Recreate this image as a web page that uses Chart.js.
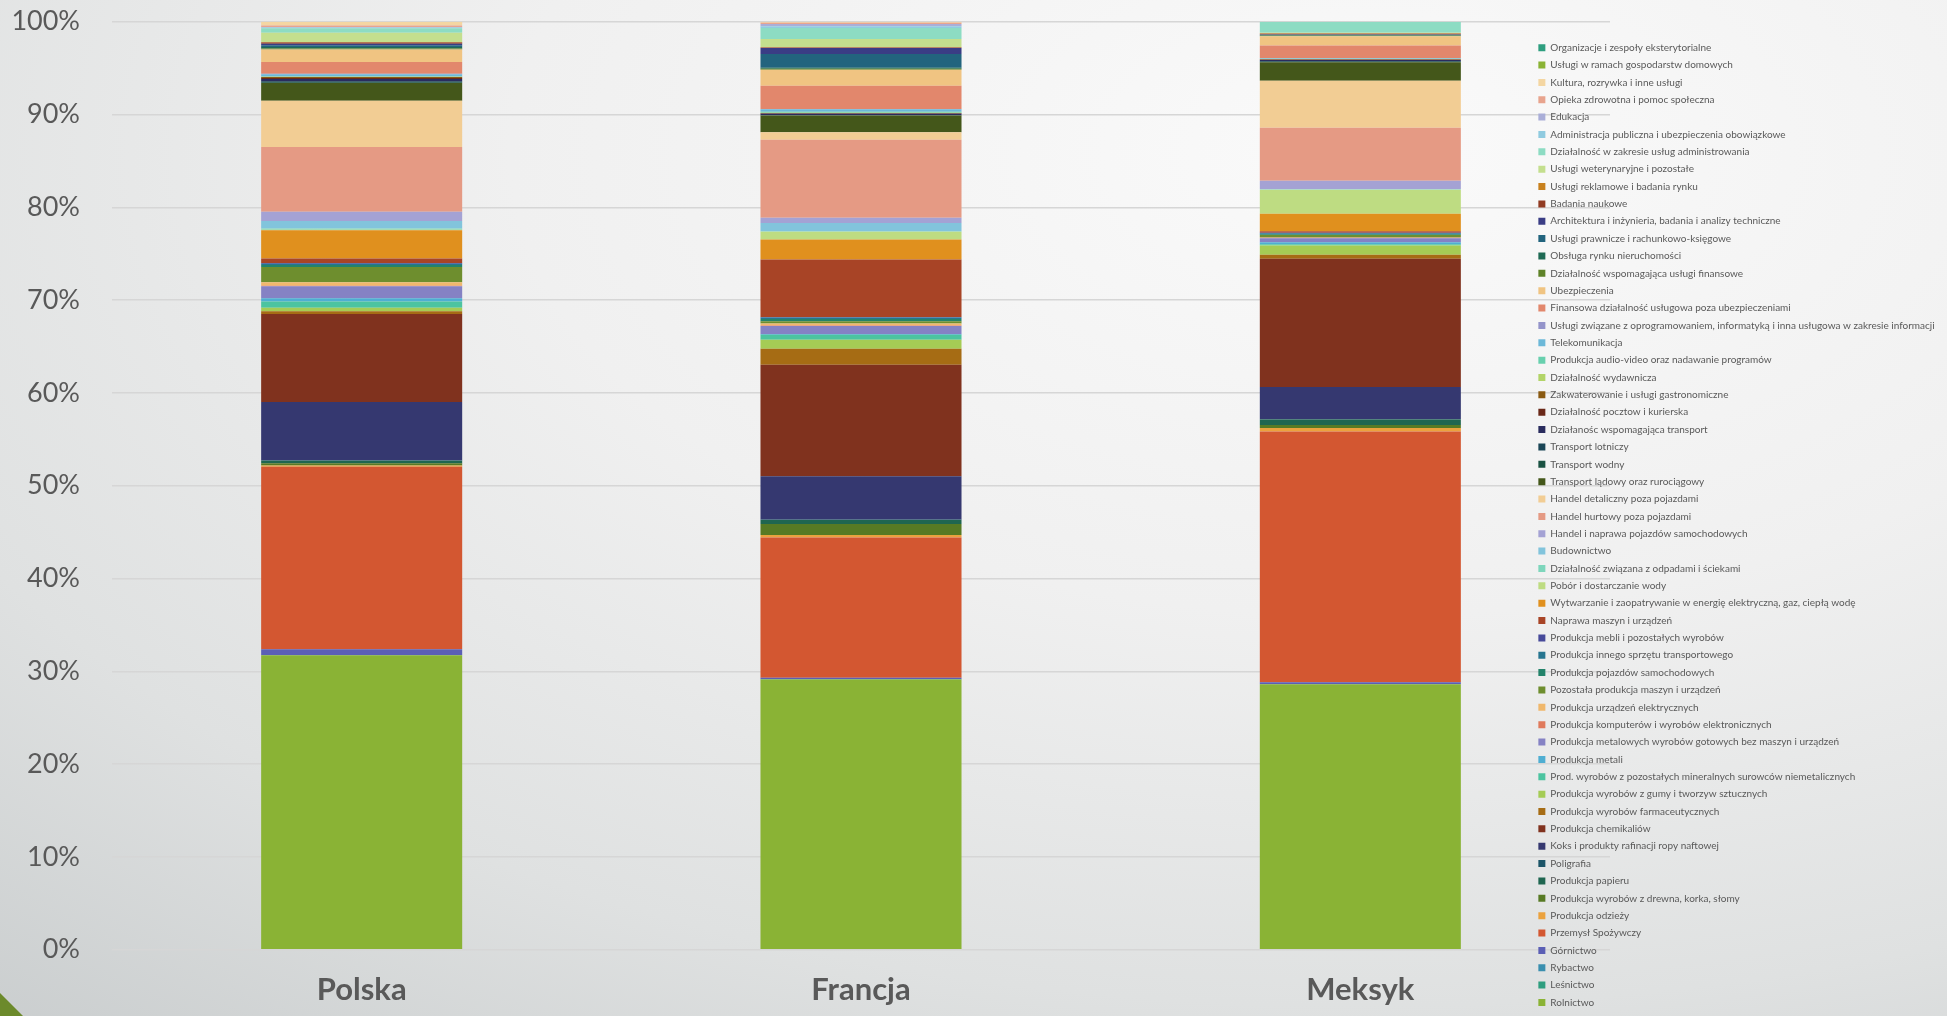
<!DOCTYPE html>
<html>
<head>
<meta charset="utf-8">
<script src="https://cdn.jsdelivr.net/npm/chart.js@4/dist/chart.umd.min.js"></script>
<style>
html, body { margin: 0; padding: 0; }
body {
  width: 1947px; height: 1016px; overflow: hidden; position: relative;
  background: radial-gradient(ellipse 115% 120% at 70% 15%, #fafafa 0%, #f0f0f0 38%, #dfe1e1 70%, #c5c9ca 100%);
}
#wrap { position: absolute; left: 0; top: 0; width: 1947px; height: 1016px; }
.corner {
  position: absolute; left: 0; bottom: 0; width: 0; height: 0;
  border-bottom: 23px solid #6c8a2b; border-right: 23px solid transparent;
}
</style>
</head>
<body>
<div id="wrap"><canvas id="chart"></canvas></div>
<div class="corner"></div>
<script>
// kraje (kolumny)
var countries = ['Polska', 'Francja', 'Meksyk'];

// sektory, od dołu słupka do góry
var sectors = [
  'Rolnictwo', 'Leśnictwo', 'Rybactwo', 'Górnictwo', 'Przemysł Spożywczy',
  'Produkcja odzieży', 'Produkcja wyrobów z drewna, korka, słomy', 'Produkcja papieru', 'Poligrafia',
  'Koks i produkty rafinacji ropy naftowej', 'Produkcja chemikaliów', 'Produkcja wyrobów farmaceutycznych',
  'Produkcja wyrobów z gumy i tworzyw sztucznych', 'Prod. wyrobów z pozostałych mineralnych surowców niemetalicznych',
  'Produkcja metali', 'Produkcja metalowych wyrobów gotowych bez maszyn i urządzeń',
  'Produkcja komputerów i wyrobów elektronicznych', 'Produkcja urządzeń elektrycznych',
  'Pozostała produkcja maszyn i urządzeń', 'Produkcja pojazdów samochodowych',
  'Produkcja innego sprzętu transportowego', 'Produkcja mebli i pozostałych wyrobów', 'Naprawa maszyn i urządzeń',
  'Wytwarzanie i zaopatrywanie w energię elektryczną, gaz, ciepłą wodę', 'Pobór i dostarczanie wody',
  'Działalność związana z odpadami i ściekami', 'Budownictwo', 'Handel i naprawa pojazdów samochodowych',
  'Handel hurtowy poza pojazdami', 'Handel detaliczny poza pojazdami', 'Transport lądowy oraz rurociągowy',
  'Transport wodny', 'Transport lotniczy', 'Działanośc wspomagająca transport', 'Działalność pocztow i kurierska',
  'Zakwaterowanie i usługi gastronomiczne', 'Działalność wydawnicza', 'Produkcja audio-video oraz nadawanie programów',
  'Telekomunikacja', 'Usługi związane z oprogramowaniem, informatyką i inna usługowa w zakresie informacji',
  'Finansowa działalność usługowa poza ubezpieczeniami', 'Ubezpieczenia', 'Działalność wspomagająca usługi finansowe',
  'Obsługa rynku nieruchomości', 'Usługi prawnicze i rachunkowo-księgowe',
  'Architektura i inżynieria, badania i analizy techniczne', 'Badania naukowe', 'Usługi reklamowe i badania rynku',
  'Usługi weterynaryjne i pozostałe', 'Działalność w zakresie usług administrowania',
  'Administracja publiczna i ubezpieczenia obowiązkowe', 'Edukacja', 'Opieka zdrowotna i pomoc społeczna',
  'Kultura, rozrywka i inne usługi', 'Usługi w ramach gospodarstw domowych', 'Organizacje i zespoły eksterytorialne'
];

// udziały w %, ta sama kolejność co sectors
var polska = [
  31.8, 0, 0.03, 0.6, 19.7, 0.15, 0.25, 0.25, 0.05, 6.3,
  9.5, 0.3, 0.37, 0.68, 0.36, 1.3, 0.03, 0.4, 1.65, 0.2,
  0.15, 0.08, 0.47, 3.05, 0.05, 0.15, 0.79, 1.0, 7.0, 5.0,
  1.9, 0.1, 0.1, 0.25, 0.1, 0.1, 0.03, 0.03, 0.26, 0.05,
  1.25, 1.37, 0.1, 0.15, 0.2, 0.15, 0.15, 0.05, 1.0, 0.47,
  0.1, 0.05, 0.17, 0.4, 0, 0
];
var francja = [
  29.1, 0.05, 0, 0.15, 15.1, 0.25, 1.19, 0.43, 0.05, 4.67,
  12.0, 1.72, 0.97, 0.54, 0.1, 0.86, 0.05, 0.2, 0.25, 0.25,
  0.15, 0.05, 6.2, 2.16, 0.83, 0.05, 0.9, 0.57, 8.4, 0.79,
  1.8, 0.03, 0.03, 0.15, 0.03, 0.03, 0.03, 0.12, 0.25, 0.05,
  2.5, 1.72, 0.1, 0.1, 1.5, 0.65, 0.03, 0.03, 0.9, 1.19,
  0.17, 0.25, 0.15, 0.1, 0, 0
];
var meksyk = [
  28.6, 0, 0, 0.2, 27.0, 0.4, 0.3, 0.61, 0.05, 3.45,
  13.8, 0.43, 1.0, 0.15, 0.2, 0.43, 0.05, 0.05, 0.25, 0.1,
  0.1, 0.05, 0.15, 1.9, 2.59, 0.02, 0.05, 0.9, 5.7, 5.07,
  1.98, 0.05, 0.1, 0.1, 0.05, 0.03, 0.02, 0.02, 0.05, 0.03,
  1.36, 1.0, 0.05, 0.05, 0.05, 0.03, 0.08, 0.05, 0.05, 1.2,
  0, 0, 0, 0, 0, 0
];

var colors = [
  '#8ab335', '#2e9e7f', '#3a8faf', '#5b5fb5', '#d35731', '#eba23e',
  '#577a24', '#1f6650', '#1c5568', '#353870', '#80321e', '#a66c14',
  '#a5cc55', '#4cc4a0', '#4faed2', '#8582c4', '#e07a5c', '#f0b86c',
  '#6e8e2e', '#23836a', '#267590', '#474a9a', '#a84426', '#e0901e',
  '#bedc82', '#7ed6bc', '#82c4dc', '#a4a2d4', '#e59a84', '#f2cd94',
  '#44571a', '#1a5242', '#1b4656', '#2a2c5e', '#6a2818', '#8a5a12',
  '#b2d468', '#68d0ae', '#6cb8d8', '#9494ca', '#e2876c', '#f0c482',
  '#5e8228', '#1e6a54', '#22647e', '#3a3d85', '#913b22', '#c8811e',
  '#c4df8e', '#8ddcc3', '#90cbe0', '#aaaed8', '#e8a48e', '#f4d6a2',
  '#8ab335', '#2e9e7f'
];

var yTicks = ['0%', '10%', '20%', '30%', '40%', '50%', '60%', '70%', '80%', '90%', '100%'];

// wykres 100% - każdy słupek normalizowany do sumy
var series = [polska, francja, meksyk];
var totals = series.map(function(s) { return s.reduce(function(a, b) { return a + b; }, 0); });

var datasets = sectors.map(function(name, i) {
  return {
    label: name,
    data: series.map(function(s, c) { return s[i] / totals[c] * 100; }),
    backgroundColor: colors[i],
    borderWidth: 0,
    categoryPercentage: 1,
    barPercentage: 0.4026
  };
});

// legenda nachodzi na obszar wykresu jak w oryginale
var legendShift = {
  id: 'legendShift',
  afterLayout: function(chart) {
    var lg = chart.legend;
    lg.left = lg.left - 79;
    lg.right = chart.width;
    lg.width = lg.right - lg.left;
  }
};

var grey = '#595959';

new Chart(document.getElementById('chart'), {
  type: 'bar',
  data: { labels: countries, datasets: datasets },
  plugins: [legendShift],
  options: {
    responsive: true,
    maintainAspectRatio: false,
    animation: false,
    layout: { padding: { top: 21.7, right: 0, bottom: 0, left: 0 } },
    plugins: {
      tooltip: { enabled: false },
      legend: {
        position: 'right',
        align: 'start',
        reverse: true,
        maxWidth: 337,
        title: { display: true, text: ' ', font: { size: 10, lineHeight: 1 }, padding: { top: 3.6, bottom: 0 } },
        labels: {
          boxWidth: 7,
          boxHeight: 7,
          padding: 7.36,
          color: grey,
          font: { family: 'Lato', size: 10 }
        }
      }
    },
    scales: {
      x: {
        stacked: true,
        afterFit: function(scale) { scale.height = 66.3; },
        grid: { display: false, drawTicks: false },
        border: { display: false },
        ticks: {
          color: grey,
          padding: 14,
          font: { family: 'Lato', size: 31, weight: 'bold', lineHeight: 1.7 }
        }
      },
      y: {
        stacked: true,
        min: 0,
        max: 100,
        afterFit: function(scale) {
          scale.width = 112;
          scale.paddingTop = 0;
          scale.paddingBottom = 0;
        },
        grid: { color: '#d6d6d6', lineWidth: 1.5, drawTicks: false },
        border: { display: false },
        ticks: {
          stepSize: 10,
          padding: 32,
          color: grey,
          font: { family: 'Lato', size: 27 },
          callback: function(v) { return yTicks[Math.round(v / 10)]; }
        }
      }
    }
  }
});
</script>
</body>
</html>
